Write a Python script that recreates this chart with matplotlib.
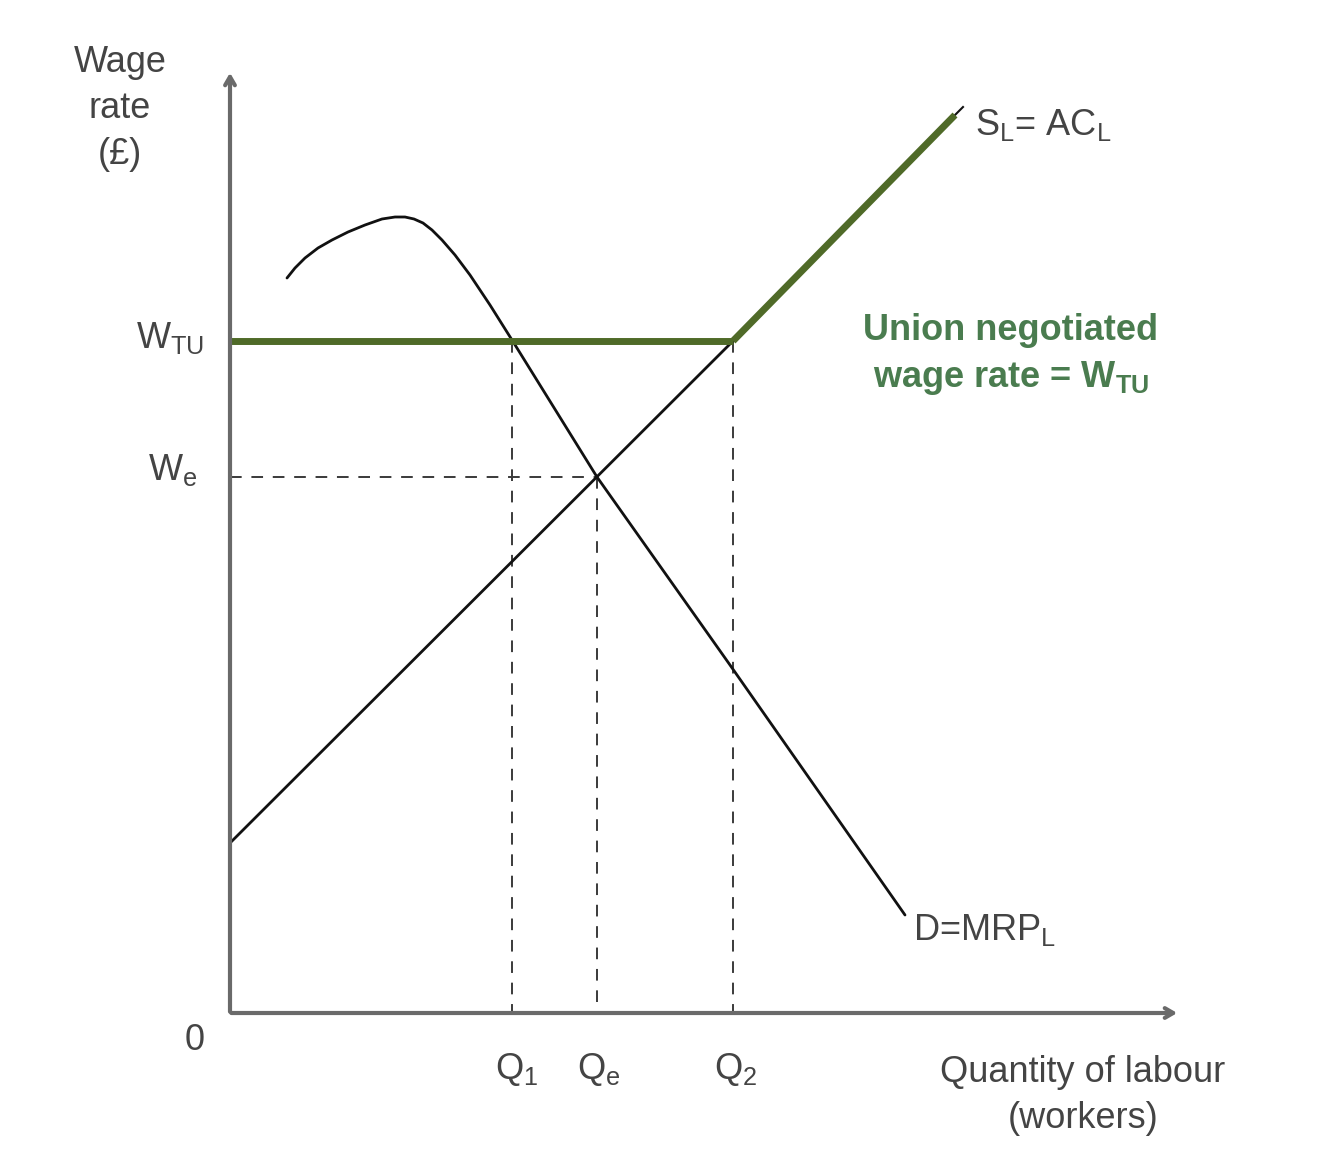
import numpy as np
import matplotlib.pyplot as plt

plt.rcParams['font.family'] = ['Liberation Sans', 'DejaVu Sans']
plt.rcParams['mathtext.fontset'] = 'custom'
plt.rcParams['mathtext.rm'] = 'Liberation Sans'
plt.rcParams['mathtext.it'] = 'Liberation Sans'
plt.rcParams['mathtext.bf'] = 'Liberation Sans:bold'

# diagram read in picture units (x right, y down)
origin = (230, 1013)
x_end = 1180
y_end = 70

# supply S_L = AC_L (black below W_TU, green above)
supply_x = [230, 733]
supply_y = [843, 341]
supply_up_x = [733, 955]
supply_up_y = [341, 115]

# union wage line W_TU
wtu_x = [230, 733]
wtu_y = [341, 341]

# demand D = MRP_L
demand_x = [287, 295, 305, 318, 332, 348, 365, 382, 395, 405, 414, 423, 432, 442, 455, 470, 490, 512, 597, 730, 905]
demand_y = [278, 268, 258, 248, 240, 232, 225, 219, 217, 217, 219, 223, 230, 240, 255, 275, 305, 340, 477, 665, 915]

# reference levels
w_e = 477
q1, qe, q2 = 512, 597, 733

col_axis = '#6a6a6a'
col_green = '#4f6a28'
col_green_txt = '#4a7c4f'
col_txt = '#444444'

fig = plt.figure(figsize=(13.34, 11.66), dpi=100)
ax = fig.add_axes([0, 0, 1, 1])
ax.set_xlim(0, 1334)
ax.set_ylim(1166, 0)
ax.axis('off')

# axes with arrows
ax.annotate('', xy=(origin[0], y_end), xytext=(origin[0], origin[1] + 1.5),
            arrowprops=dict(arrowstyle='->,head_length=0.6,head_width=0.35', color=col_axis, lw=3))
ax.annotate('', xy=(x_end, origin[1]), xytext=(origin[0] - 1.5, origin[1]),
            arrowprops=dict(arrowstyle='->,head_length=0.6,head_width=0.35', color=col_axis, lw=3))

# dashed guides
dash = dict(color='#3a3a3a', lw=1.4, linestyle=(0, (6, 5)))
ax.plot([origin[0], qe], [w_e, w_e], **dash)
ax.plot([q1, q1], [wtu_y[0], origin[1]], **dash)
ax.plot([qe, qe], [w_e, origin[1]], **dash)
ax.plot([q2, q2], [wtu_y[0], origin[1]], **dash)

# curves
ax.plot(supply_x, supply_y, color='#111111', lw=2)
ax.plot(demand_x, demand_y, color='#111111', lw=2, solid_capstyle='round')
ax.plot([supply_up_x[1], supply_up_x[1] + 8], [supply_up_y[1], supply_up_y[1] - 8], color='#111111', lw=1.5)
ax.plot(wtu_x, wtu_y, color=col_green, lw=5, solid_capstyle='butt')
ax.plot(supply_up_x, supply_up_y, color=col_green, lw=5, solid_capstyle='butt')

fs = 26
ax.text(120, 62, 'Wage', fontsize=fs, color=col_txt, ha='center', va='center')
ax.text(120, 108, 'rate', fontsize=fs, color=col_txt, ha='center', va='center')
ax.text(120, 155, '(£)', fontsize=fs, color=col_txt, ha='center', va='center')

ax.text(204, 338, r'W$_{\mathrm{TU}}$', fontsize=fs, color=col_txt, ha='right', va='center')
ax.text(197, 470, r'W$_{\mathrm{e}}$', fontsize=fs, color=col_txt, ha='right', va='center')
ax.text(195, 1040, '0', fontsize=fs, color=col_txt, ha='center', va='center')

ax.text(q1 + 5, 1070, r'Q$_{1}$', fontsize=fs, color=col_txt, ha='center', va='center')
ax.text(qe + 2, 1070, r'Q$_{\mathrm{e}}$', fontsize=fs, color=col_txt, ha='center', va='center')
ax.text(q2 + 3, 1070, r'Q$_{2}$', fontsize=fs, color=col_txt, ha='center', va='center')

ax.text(1083, 1073, 'Quantity of labour', fontsize=fs, color=col_txt, ha='center', va='center')
ax.text(1083, 1118, '(workers)', fontsize=fs, color=col_txt, ha='center', va='center')

ax.text(975, 125, r'S$_{\mathrm{L}}$= AC$_{\mathrm{L}}$', fontsize=fs, color=col_txt, ha='left', va='center')
ax.text(913, 930, r'D=MRP$_{\mathrm{L}}$', fontsize=fs, color=col_txt, ha='left', va='center')

ax.text(1011, 330, 'Union negotiated', fontsize=fs, color=col_green_txt, fontweight='bold',
        ha='center', va='center')
ax.text(1011, 378, r'wage rate = W$_{\mathbf{TU}}$', fontsize=fs, color=col_green_txt, fontweight='bold',
        ha='center', va='center')

fig.savefig('out.png', dpi=100)
